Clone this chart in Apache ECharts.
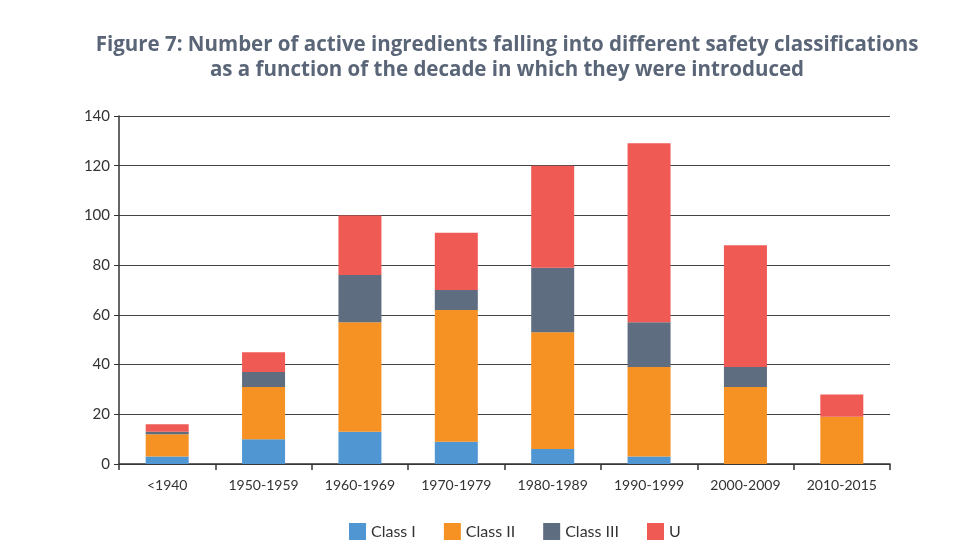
<!DOCTYPE html>
<html><head><meta charset="utf-8">
<script src="https://cdn.jsdelivr.net/npm/echarts@6/dist/echarts.min.js"></script>
<style>html,body{margin:0;padding:0;background:#fff}#c{width:960px;height:543px}</style>
</head><body><div id="c"></div>
<script>
const categories = ['<1940','1950-1959','1960-1969','1970-1979','1980-1989','1990-1999','2000-2009','2010-2015'];
const classI   = [3, 10, 13, 9, 6, 3, 0, 0];
const classII  = [9, 21, 44, 53, 47, 36, 31, 19];
const classIII = [1, 6, 19, 8, 26, 18, 8, 0];
const classU   = [3, 8, 24, 23, 41, 72, 49, 9];
const yTicks = [0, 20, 40, 60, 80, 100, 120, 140];

const chart = echarts.init(document.getElementById('c'));
const font = 'Lato';
function s(name, data, color){
  return {name, type:'bar', stack:'a', data, barWidth:43, itemStyle:{color}, emphasis:{disabled:true}};
}
chart.setOption({
  animation:false,
  title:{
    text:'Figure 7: Number of active ingredients falling into different safety classifications\nas a function of the decade in which they were introduced',
    left:502, top:28, textAlign:'center',
    textStyle:{fontFamily:'Open Sans', fontWeight:'bold', fontSize:20.5, color:'#5a6677', lineHeight:25}
  },
  grid:{left:119, right:70, top:116, bottom:79},
  legend:{
    bottom:-2, left:344, itemWidth:17, itemHeight:17, itemGap:28, icon:'rect',
    textStyle:{fontFamily:font, fontSize:16, color:'#333'},
    data:['Class I','Class II','Class III','U']
  },
  xAxis:{
    type:'category', data:categories,
    axisLine:{lineStyle:{color:'#333', width:1.5}},
    axisTick:{show:true, length:6, lineStyle:{color:'#333', width:1.5}},
    axisLabel:{fontFamily:font, fontSize:14, color:'#333', margin:14}
  },
  yAxis:{
    type:'value', min:yTicks[0], max:yTicks[yTicks.length-1], interval:20,
    axisLine:{show:true, lineStyle:{color:'#333', width:1.5}},
    axisTick:{show:true, length:5, lineStyle:{color:'#333'}},
    axisLabel:{fontFamily:font, fontSize:15, color:'#333', margin:9},
    splitLine:{lineStyle:{color:'#444', width:1.2}}
  },
  series:[
    s('Class I', classI, '#5096d2'),
    s('Class II', classII, '#f59223'),
    s('Class III', classIII, '#5f6d80'),
    s('U', classU, '#ef5a55')
  ]
});
</script></body></html>
